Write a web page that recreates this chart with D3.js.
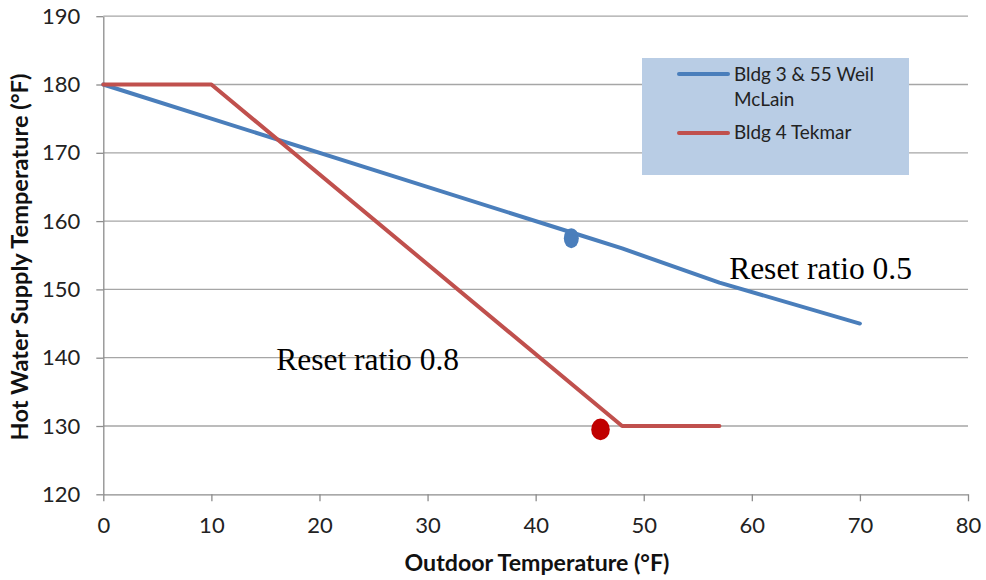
<!DOCTYPE html>
<html><head><meta charset="utf-8">
<script src="https://cdn.jsdelivr.net/npm/d3@7"></script>
<style>body{margin:0;background:#fff}svg{display:block}</style>
</head><body>
<svg id="chart" width="986" height="580"></svg>
<script>
const xTicks = [0,10,20,30,40,50,60,70,80];
const yTicks = [120,130,140,150,160,170,180,190];
const blueLines = ["Bldg 3 & 55 Weil", "McLain"];
const redName = "Bldg 4 Tekmar";
const blueX = [0,44,48,57,70];
const blueY = [180,158,156,151,145];
const redX = [0,10,48,57];
const redY = [180,180,130,130];
const bluePoint = {x:43.3, y:157.5};
const redPoint = {x:46.0, y:129.5};
const notes = [{text:"Reset ratio 0.5", x:57.9, y:151.5},{text:"Reset ratio 0.8", x:16.0, y:138.2}];
const xTitle = "Outdoor Temperature (°F)";
const yTitle = "Hot Water Supply Temperature (°F)";

const svg = d3.select("#chart");
const x = d3.scaleLinear().domain([0,80]).range([103.3,968]);
const y = d3.scaleLinear().domain([120,190]).range([494.3,16.2]);
const font = "Lato, 'Open Sans', sans-serif";

function fit(sel, target, base){
  sel.attr("font-size", base);
  const w = sel.node().getComputedTextLength();
  sel.attr("font-size", base * target / w);
}

// gridlines
svg.append("g").selectAll("line").data(yTicks.filter(d=>d>120)).join("line")
  .attr("x1",x(0)).attr("x2",x(80)).attr("y1",d=>y(d)).attr("y2",d=>y(d))
  .attr("stroke","#a6a6a6").attr("stroke-width",1.3);

// axes
const xa = svg.append("g").attr("transform",`translate(0,${y(120)})`)
  .call(d3.axisBottom(x).tickValues(xTicks).tickSize(7).tickSizeOuter(0).tickPadding(15));
const ya = svg.append("g").attr("transform",`translate(${x(0)},0)`)
  .call(d3.axisLeft(y).tickValues(yTicks).tickSize(7).tickSizeOuter(0).tickPadding(16));
[xa,ya].forEach(a=>{
  a.select(".domain").attr("stroke","#8c8c8c").attr("stroke-width",1.3);
  a.selectAll(".tick line").attr("stroke","#8c8c8c").attr("stroke-width",1.3);
  a.selectAll("text").attr("font-family",font).attr("font-size",22).attr("fill","#222");
});
xa.selectAll("text").attr("dy","0.75em");

// markers (behind lines)
svg.append("ellipse").attr("cx",x(bluePoint.x)).attr("cy",y(bluePoint.y))
  .attr("rx",7.5).attr("ry",10).attr("fill","#4a7ebb");
svg.append("ellipse").attr("cx",x(redPoint.x)).attr("cy",y(redPoint.y))
  .attr("rx",9.3).attr("ry",10.8).attr("fill","#c00000");

const line = d3.line().x(d=>x(d[0])).y(d=>y(d[1]));
svg.append("path").datum(blueX.map((v,i)=>[v,blueY[i]])).attr("d",line)
  .attr("fill","none").attr("stroke","#4a7ebb").attr("stroke-width",4).attr("stroke-linejoin","round").attr("stroke-linecap","round");
svg.append("path").datum(redX.map((v,i)=>[v,redY[i]])).attr("d",line)
  .attr("fill","none").attr("stroke","#c0504d").attr("stroke-width",4).attr("stroke-linejoin","round").attr("stroke-linecap","round");

// legend
const lg = svg.append("g");
lg.append("rect").attr("x",642).attr("y",58).attr("width",267).attr("height",117).attr("fill","#b9cde5");
[["#4a7ebb",74],["#c0504d",133]].forEach(([c,yy])=>{
  lg.append("line").attr("x1",679).attr("x2",728).attr("y1",yy).attr("y2",yy)
    .attr("stroke",c).attr("stroke-width",4).attr("stroke-linecap","round");
});
const lt1 = lg.append("text").attr("x",734).attr("y",81).attr("font-family",font).attr("fill","#222").text(blueLines[0]);
fit(lt1, 140, 17);
const fs = +lt1.attr("font-size");
lg.append("text").attr("x",734).attr("y",106).attr("font-family",font).attr("font-size",fs).attr("fill","#222").text(blueLines[1]);
lg.append("text").attr("x",734).attr("y",139).attr("font-family",font).attr("font-size",fs).attr("fill","#222").text(redName);

// annotations
svg.selectAll(".note").data(notes).join("text").attr("class","note")
  .attr("x",d=>x(d.x)).attr("y",d=>y(d.y))
  .attr("font-family","'Liberation Serif', 'Times New Roman', serif").attr("font-size",31.5).attr("fill","#000")
  .text(d=>d.text);

// axis titles
const xt = svg.append("text").attr("x",537).attr("y",571).attr("text-anchor","middle")
  .attr("font-family",font).attr("font-weight","bold").attr("fill","#111").text(xTitle);
fit(xt, 265, 20);
const yt = svg.append("text").attr("transform","translate(28,257) rotate(-90)").attr("text-anchor","middle")
  .attr("font-family",font).attr("font-weight","bold").attr("fill","#111").text(yTitle);
fit(yt, 367, 18);
</script>
</body></html>
